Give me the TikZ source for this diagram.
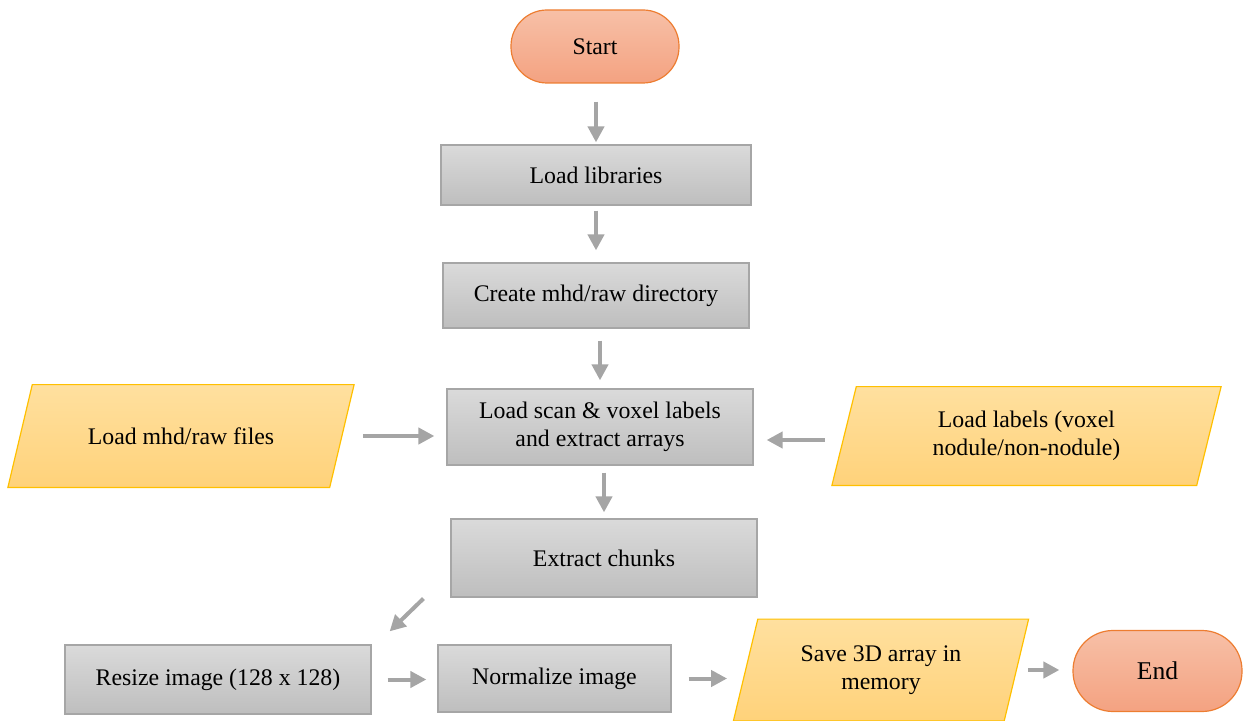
\documentclass[tikz,border=0pt]{standalone}
\usepackage{fontspec}
\setmainfont{Liberation Serif}
\usetikzlibrary{arrows.meta,backgrounds}
\definecolor{boxtop}{HTML}{DADADA}
\definecolor{boxbot}{HTML}{BEBEBE}
\definecolor{boxline}{HTML}{A6A6A6}
\definecolor{iotop}{HTML}{FFE09F}
\definecolor{iobot}{HTML}{FFD27A}
\definecolor{ioline}{HTML}{FFC000}
\definecolor{termtop}{HTML}{F7C0A7}
\definecolor{termbot}{HTML}{F4A281}
\definecolor{termline}{HTML}{ED7D31}
\definecolor{arrowgray}{HTML}{A5A5A5}
\begin{document}
\begin{tikzpicture}[
  x=0.5pt, y=-0.5pt,
  font=\fontsize{11.9}{14}\selectfont,
  box/.style={draw=boxline, line width=0.6pt, rectangle, top color=boxtop, bottom color=boxbot, align=center, inner sep=0pt},
  io/.style={rectangle, align=center, inner sep=0pt},
  iofill/.style={draw=ioline, line width=0.6pt, top color=iotop, bottom color=iobot},
  term/.style={draw=termline, line width=0.6pt, rectangle, top color=termtop, bottom color=termbot, align=center},
  arrow/.style={-{Triangle[width=8pt,length=8pt]}, line width=2pt, draw=arrowgray},
]
\useasboundingbox (0,0) rectangle (1246,721);

\node[term, rounded corners=18pt, minimum width=84pt, minimum height=36.5pt] (start) at (595,46.5) {Start};
\node[box, minimum width=155pt, minimum height=30pt] (libs) at (596,175) {Load libraries};
\node[box, minimum width=153pt, minimum height=32.5pt] (mhddir) at (596,295.5) {Create mhd/raw directory};
\node[box, minimum width=153pt, minimum height=38pt] (scan) at (600,427) {Load scan \& voxel labels\\and extract arrays};
\node[io, minimum width=160.5pt, minimum height=51pt] (files) at (181,436) {Load mhd/raw files};
\node[io, minimum width=182pt, minimum height=49pt] (labels) at (1026.5,436) {Load labels (voxel\\nodule/non-nodule)};
\node[box, minimum width=153pt, minimum height=39pt] (chunks) at (604,558) {Extract chunks};
\node[box, minimum width=153pt, minimum height=34.5pt] (resize) at (218,679.5) {Resize image (128 x 128)};
\node[box, minimum width=116.5pt, minimum height=33.5pt] (norm) at (554.5,678.5) {Normalize image};
\node[io, minimum width=135pt, minimum height=50.5pt] (save) at (881,670) {Save 3D array in\\memory};
\node[term, rounded corners=20pt, minimum width=84.5pt, minimum height=40.5pt, font=\fontsize{12.8}{15}\selectfont] (endnode) at (1157.5,671) {End};

\begin{scope}[on background layer]
\foreach \n in {files,labels,save}
  \path[iofill] ([xshift=6.1pt]\n.north west) -- ([xshift=6.1pt]\n.north east)
    -- ([xshift=-6.1pt]\n.south east) -- ([xshift=-6.1pt]\n.south west) -- cycle;
\end{scope}

\draw[arrow, shorten <=9pt, shorten >=1pt] (libs.north |- start.south) -- (libs.north);
\draw[arrow, shorten <=2.5pt, shorten >=6pt] (mhddir.north |- libs.south) -- (mhddir.north);
\draw[arrow, shorten <=6pt, shorten >=4pt] (scan.north |- mhddir.south) -- (scan.north);
\draw[arrow, shorten <=3.5pt, shorten >=3pt] (chunks.north |- scan.south) -- (chunks.north);
\draw[arrow, shorten <=10.5pt, shorten >=6pt] (files.east) -- (files.east -| scan.west);
\draw[arrow, shorten <=9.75pt, shorten >=6.5pt] ([yshift=-2pt]labels.west) -- ([yshift=-2pt]labels.west -| scan.east);
\draw[arrow] ([xshift=-13.5pt,yshift=-0.5pt]chunks.south west) -- ([xshift=9pt,yshift=6.5pt]resize.north east);
\draw[arrow, shorten <=8pt, shorten >=5.5pt] (resize.east) -- (resize.east -| norm.west);
\draw[arrow, shorten <=8.5pt, shorten >=9.25pt] (norm.east) -- (norm.east -| save.west);
\draw[arrow, shorten <=5.75pt, shorten >=6.5pt] (save.east) -- (save.east -| endnode.west);
\end{tikzpicture}
\end{document}
